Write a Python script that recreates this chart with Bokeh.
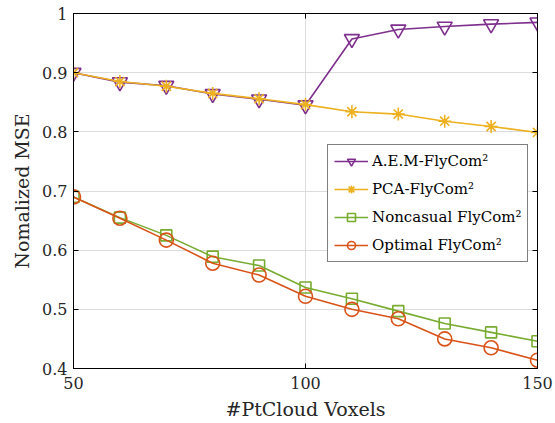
from bokeh.plotting import figure
from bokeh.models import LinearAxis, FixedTicker, Range1d, Legend, LegendItem
from bokeh.embed import file_html
from bokeh.resources import INLINE

voxels = [50, 60, 70, 80, 90, 100, 110, 120, 130, 140, 150]
aem = [0.900, 0.884, 0.878, 0.864, 0.855, 0.845, 0.957, 0.973, 0.978, 0.982, 0.985]
pca = [0.900, 0.885, 0.877, 0.865, 0.856, 0.846, 0.834, 0.830, 0.818, 0.809, 0.799]
noncausal = [0.690, 0.655, 0.625, 0.589, 0.574, 0.537, 0.518, 0.497, 0.476, 0.461, 0.446]
optimal = [0.690, 0.654, 0.617, 0.578, 0.558, 0.522, 0.500, 0.484, 0.450, 0.435, 0.414]
labels = ["A.E.M-FlyCom\u00b2", "PCA-FlyCom\u00b2", "Noncasual FlyCom\u00b2", "Optimal FlyCom\u00b2"]
x_ticks = [50, 100, 150]
y_ticks = [0.4, 0.5, 0.6, 0.7, 0.8, 0.9, 1.0]

FONT = "DejaVu Serif"

p = figure(width=555, height=423, output_backend="svg", toolbar_location=None,
           x_range=Range1d(50, 150), y_range=Range1d(0.4, 1.0),
           min_border_left=73, min_border_right=18, min_border_top=13, min_border_bottom=55)
p.background_fill_color = "white"
p.border_fill_color = "white"
p.outline_line_color = "black"
p.outline_line_width = 1

for ax in [p.xaxis[0], p.yaxis[0]]:
    ax.major_tick_in = 5
    ax.major_tick_out = 0
    ax.minor_tick_in = 0
    ax.minor_tick_out = 0
    ax.axis_line_color = "black"
    ax.major_tick_line_color = "black"
    ax.major_label_text_font = FONT
    ax.major_label_text_font_size = "16px"
    ax.major_label_text_color = "#262626"
    ax.axis_label_text_font = FONT
    ax.axis_label_text_font_size = "19px"
    ax.axis_label_text_font_style = "normal"
    ax.axis_label_text_color = "#262626"
p.xaxis[0].ticker = FixedTicker(ticks=x_ticks)
p.yaxis[0].ticker = FixedTicker(ticks=y_ticks)
p.yaxis[0].formatter.use_scientific = False
p.xaxis.axis_label = "#PtCloud Voxels"
p.yaxis.axis_label = "Nomalized MSE"
p.yaxis[0].major_label_overrides = {1.0: "1"}
p.xaxis[0].major_label_standoff = 8
p.xaxis[0].axis_label_standoff = 6
p.yaxis[0].major_label_standoff = 6
p.yaxis[0].axis_label_standoff = 6

for loc, tk in [("right", y_ticks), ("above", x_ticks)]:
    a = LinearAxis(ticker=FixedTicker(ticks=tk), major_label_overrides={t: "" for t in tk},
                   major_tick_in=5, major_tick_out=0, minor_tick_in=0, minor_tick_out=0,
                   major_label_standoff=0,
                   axis_line_color="black", major_tick_line_color="black")
    p.add_layout(a, loc)

p.xgrid.ticker = FixedTicker(ticks=x_ticks)
p.ygrid.ticker = FixedTicker(ticks=y_ticks)
p.grid.grid_line_color = "#dcdcdc"
p.grid.grid_line_width = 1

colors = ["#7E2F8E", "#EDB120", "#77AC30", "#D95319"]
series = [aem, pca, noncausal, optimal]
markers = ["inverted_triangle", "asterisk", "square", "circle"]
sizes = [15, 13, 11, 14]
items = []
for s, c, m, sz, lab in zip(series, colors, markers, sizes, labels):
    l = p.line(voxels, s, line_color=c, line_width=1.6)
    r = p.scatter(voxels, s, marker=m, size=sz, line_color=c, fill_color=None if m != "asterisk" else c,
                  line_width=1.6)
    items.append(LegendItem(label=lab, renderers=[l, r]))

leg = Legend(items=items, location=(254, 106))
leg.label_text_font = FONT
leg.label_text_font_size = "15px"
leg.label_text_color = "black"
leg.border_line_color = "black"
leg.border_line_width = 1
leg.glyph_width = 34
leg.glyph_height = 20
leg.spacing = 8
leg.padding = 6
leg.margin = 0
leg.label_standoff = 4
leg.background_fill_alpha = 1
p.add_layout(leg, "center")

open("out.html", "w").write(file_html(p, INLINE))
